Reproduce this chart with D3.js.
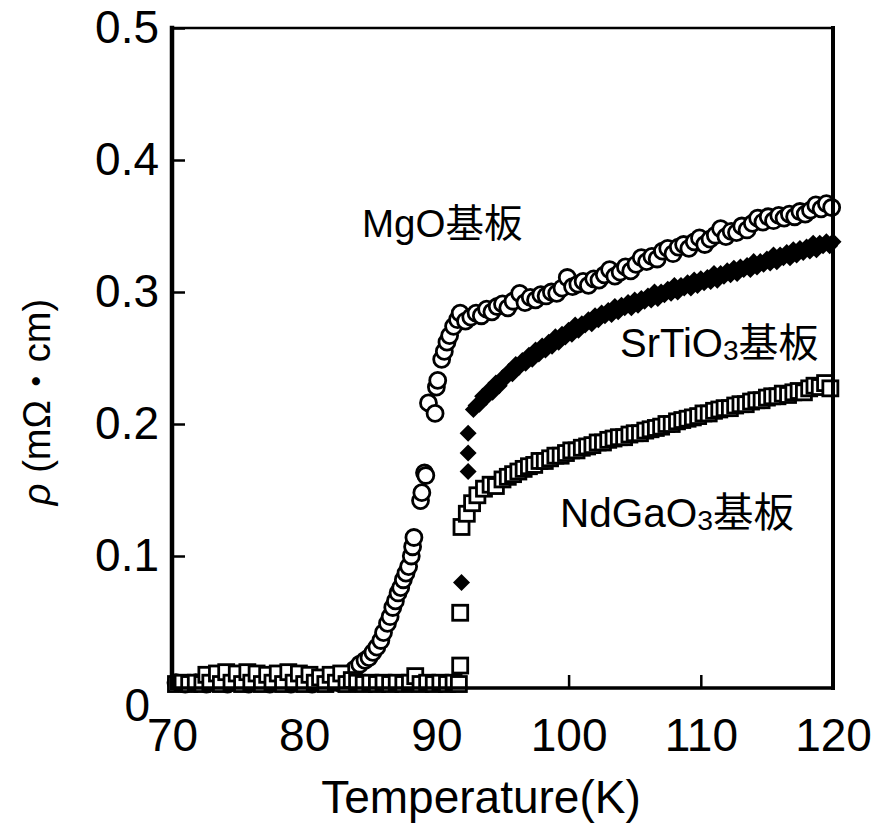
<!DOCTYPE html>
<html>
<head>
<meta charset="utf-8">
<script src="https://cdn.jsdelivr.net/npm/d3@7"></script>
<style>
  * { margin: 0; padding: 0; }
  html, body { width: 878px; height: 835px; background: #fff; overflow: hidden; }
  svg { display: block; }
  text { font-family: "Liberation Sans", Arial, "Noto Sans CJK JP", sans-serif; fill: #000; }
  .cjk { font-family: "Noto Sans CJK JP", sans-serif; }
</style>
</head>
<body>
<div id="chart"></div>
<script>
// x ticks / y ticks
const xTicks = [70, 80, 90, 100, 110, 120];
const yTicks = [0, 0.1, 0.2, 0.3, 0.4, 0.5];

// MgO substrate (open circles), [T (K), rho (mOhm cm)]
const mgo = [
  [70.3,0.004],[71.0,0.003],[71.8,0.004],[72.6,0.003],[73.4,0.004],[74.2,0.003],[75.0,0.004],
  [75.8,0.003],[76.6,0.004],[77.4,0.003],[78.2,0.004],[79.0,0.003],[79.8,0.004],[80.6,0.003],
  [81.4,0.004],[82.2,0.005],[82.8,0.006],[83.3,0.009],[83.8,0.014],[84.2,0.018],[84.6,0.021],
  [84.9,0.023],[85.2,0.027],[85.5,0.031],[85.8,0.036],[86.0,0.042],[86.3,0.049],[86.5,0.054],
  [86.7,0.061],[86.9,0.066],[87.1,0.072],[87.3,0.076],[87.5,0.082],[87.7,0.087],[87.9,0.092],
  [88.1,0.100],[88.2,0.107],[88.3,0.114],[88.8,0.142],[88.9,0.148],[89.1,0.163],[89.2,0.161],
  [89.4,0.216],[89.9,0.208],[90.0,0.228],[90.1,0.233],[90.4,0.249],[90.6,0.255],[90.8,0.262],
  [91.0,0.267],[91.3,0.274],[91.6,0.279],[91.8,0.284],[92.2,0.278],[92.6,0.281],[93.0,0.284],
  [93.4,0.282],[93.8,0.287],[94.2,0.285],[94.6,0.289],[95.0,0.291],[95.4,0.288],[95.8,0.293],
  [96.3,0.299],[96.7,0.292],[97.1,0.296],[97.5,0.294],[97.9,0.298],[98.3,0.297],[98.7,0.300],
  [99.1,0.299],[99.5,0.303],[99.9,0.311],[100.3,0.304],[100.7,0.306],[101.1,0.308],[101.5,0.305],
  [101.9,0.310],[102.3,0.309],[102.7,0.313],[103.1,0.317],[103.5,0.312],[103.9,0.315],[104.3,0.319],
  [104.7,0.316],[105.1,0.321],[105.5,0.326],[105.9,0.323],[106.3,0.327],[106.7,0.325],[107.1,0.331],
  [107.5,0.333],[107.9,0.329],[108.3,0.334],[108.7,0.336],[109.1,0.333],[109.5,0.338],[109.9,0.341],
  [110.3,0.336],[110.7,0.340],[111.1,0.343],[111.5,0.348],[111.9,0.342],[112.3,0.346],[112.7,0.345],
  [113.1,0.350],[113.5,0.347],[113.9,0.352],[114.3,0.356],[114.7,0.353],[115.1,0.357],[115.5,0.354],
  [115.9,0.358],[116.3,0.356],[116.7,0.359],[117.1,0.357],[117.5,0.361],[117.9,0.359],[118.3,0.362],
  [118.7,0.366],[119.1,0.363],[119.5,0.367],[119.9,0.364]
];

// SrTiO3 substrate (filled diamonds)
const srtio = [
  [70.5,0.003],[71.5,0.003],[72.5,0.003],[73.5,0.003],[74.5,0.003],[75.5,0.003],[76.5,0.003],
  [77.5,0.003],[78.5,0.003],[79.5,0.003],[80.5,0.003],[81.5,0.003],[82.5,0.003],[83.5,0.003],
  [84.5,0.003],[85.5,0.003],[86.5,0.003],[87.5,0.003],[88.5,0.003],[89.5,0.003],[90.5,0.003],
  [91.5,0.003],[91.9,0.080],[92.4,0.164],[92.4,0.178],[92.4,0.193],
  [92.8,0.211],[93.0,0.214],[93.25,0.215],[93.5,0.221],[93.75,0.220],[94.0,0.226],[94.25,0.224],
  [94.5,0.231],[94.75,0.229],[95.0,0.235],[95.25,0.235],[95.5,0.240],[95.75,0.238],[96.0,0.245],
  [96.25,0.243],[96.5,0.248],[96.75,0.246],[97.0,0.252],[97.25,0.249],[97.5,0.256],[97.75,0.253],
  [98.0,0.259],[98.25,0.256],[98.5,0.262],[98.75,0.259],[99.0,0.266],[99.25,0.262],[99.5,0.268],
  [99.75,0.266],[100.0,0.271],[100.25,0.268],[100.5,0.275],[100.75,0.271],[101.0,0.276],[101.25,0.275],
  [101.5,0.279],[101.75,0.276],[102.0,0.282],[102.25,0.279],[102.5,0.284],[102.75,0.282],[103.0,0.286],
  [103.25,0.283],[103.5,0.289],[103.75,0.285],[104.0,0.290],[104.25,0.288],[104.5,0.292],[104.75,0.288],
  [105.0,0.294],[105.25,0.290],[105.5,0.295],[105.75,0.293],[106.0,0.297],[106.25,0.294],[106.5,0.300],
  [106.75,0.295],[107.0,0.300],[107.25,0.298],[107.5,0.302],[107.75,0.299],[108.0,0.305],[108.25,0.300],
  [108.5,0.305],[108.75,0.303],[109.0,0.307],[109.25,0.303],[109.5,0.309],[109.75,0.305],[110.0,0.310],
  [110.25,0.307],[110.5,0.311],[110.75,0.308],[111.0,0.314],[111.25,0.309],[111.5,0.314],[111.75,0.312],
  [112.0,0.316],[112.25,0.313],[112.5,0.318],[112.75,0.314],[113.0,0.319],[113.25,0.317],[113.5,0.320],
  [113.75,0.317],[114.0,0.323],[114.25,0.319],[114.5,0.323],[114.75,0.321],[115.0,0.325],[115.25,0.322],
  [115.5,0.328],[115.75,0.323],[116.0,0.328],[116.25,0.326],[116.5,0.330],[116.75,0.326],[117.0,0.332],
  [117.25,0.328],[117.5,0.333],[117.75,0.330],[118.0,0.334],[118.25,0.331],[118.5,0.337],[118.75,0.332],
  [119.0,0.337],[119.25,0.335],[119.5,0.338],[119.75,0.335],[120.0,0.338]
];

// NdGaO3 substrate (open squares)
const ndgao = [
  [70.3,0.003],[70.8,0.004],[71.3,0.003],[71.8,0.004],[72.3,0.003],[72.6,0.010],[72.9,0.004],
  [73.4,0.011],[73.7,0.003],[74.1,0.012],[74.5,0.004],[74.9,0.011],[75.3,0.003],[75.7,0.012],
  [76.0,0.004],[76.4,0.011],[76.8,0.003],[77.2,0.010],[77.6,0.004],[78.0,0.011],[78.4,0.003],
  [78.8,0.012],[79.2,0.004],[79.6,0.011],[80.0,0.003],[80.4,0.010],[80.8,0.004],[81.2,0.008],
  [81.6,0.003],[82.0,0.010],[82.4,0.004],[82.8,0.011],[83.2,0.003],[83.6,0.006],[84.0,0.004],
  [84.5,0.003],[85.0,0.004],[85.5,0.003],[86.0,0.004],[86.5,0.003],[87.0,0.004],[87.5,0.003],
  [88.0,0.004],[88.4,0.009],[88.8,0.003],[89.3,0.004],[89.8,0.003],[90.3,0.004],[90.8,0.003],
  [91.3,0.004],[91.7,0.003],[91.8,0.017],[91.8,0.057],[91.9,0.122],[92.3,0.132],[92.7,0.140],
  [93.1,0.146],[93.6,0.151],[94.1,0.154],[94.5,0.153],[95.0,0.158],[95.4,0.160],[95.8,0.162],
  [96.2,0.164],[96.6,0.166],[97.0,0.168],[97.4,0.169],[97.8,0.172],[98.2,0.172],[98.6,0.174],
  [99.0,0.176],[99.4,0.176],[99.8,0.178],[100.2,0.180],[100.6,0.180],[101.0,0.182],[101.4,0.183],
  [101.8,0.184],[102.2,0.186],[102.6,0.186],[103.0,0.188],[103.4,0.189],[103.8,0.190],[104.2,0.190],
  [104.6,0.192],[105.0,0.193],[105.4,0.193],[105.8,0.195],[106.2,0.196],[106.6,0.197],[107.0,0.198],
  [107.4,0.200],[107.8,0.200],[108.2,0.202],[108.6,0.203],[109.0,0.204],[109.4,0.205],[109.8,0.206],
  [110.2,0.208],[110.6,0.208],[111.0,0.210],[111.4,0.211],[111.8,0.212],[112.2,0.212],[112.6,0.214],
  [113.0,0.215],[113.4,0.215],[113.8,0.217],[114.2,0.218],[114.6,0.218],[115.0,0.220],[115.4,0.221],
  [115.8,0.221],[116.2,0.223],[116.6,0.222],[117.0,0.224],[117.4,0.225],[117.8,0.224],[118.2,0.227],
  [118.6,0.229],[119.0,0.228],[119.4,0.231],[119.8,0.227]
];

const W = 878, H = 835;
const plotL = 172, plotR = 833, plotT = 28, plotB = 688;

const svg = d3.select('#chart').append('svg').attr('width', W).attr('height', H);

const x = d3.scaleLinear().domain([70, 120]).range([plotL, plotR]);
const y = d3.scaleLinear().domain([0, 0.5]).range([plotB, plotT]);

// axes with inward ticks
const xAxis = svg.append('g')
  .attr('transform', `translate(0,${plotB})`)
  .call(d3.axisBottom(x).tickValues(xTicks).tickSize(-13).tickPadding(30).tickFormat(d3.format('d')));
const yAxis = svg.append('g')
  .attr('transform', `translate(${plotL},0)`)
  .call(d3.axisLeft(y).tickValues(yTicks).tickSize(-13).tickPadding(13)
    .tickFormat(d => d === 0 ? '0' : d3.format('.1f')(d)));

[xAxis, yAxis].forEach(g => {
  g.select('.domain').remove();
  g.selectAll('.tick line').attr('stroke', '#000').attr('stroke-width', 2.5);
  g.selectAll('.tick text')
    .style('font-family', '"Liberation Sans", Arial, sans-serif')
    .style('font-size', '46px')
    .attr('fill', '#000');
});
// zero label sits a little lower in the original
yAxis.selectAll('.tick text').filter(d => d === 0).attr('dy', '0.7em').attr('x', -22);

// data marks
svg.append('g').selectAll('circle').data(mgo).join('circle')
  .attr('cx', d => x(d[0])).attr('cy', d => y(d[1])).attr('r', 8)
  .attr('fill', '#fff').attr('stroke', '#000').attr('stroke-width', 2.8);

const diamond = d3.symbol().type(d3.symbolDiamond2).size(185);
svg.append('g').selectAll('path').data(srtio).join('path')
  .attr('d', diamond)
  .attr('transform', d => `translate(${x(d[0])},${y(d[1])})`)
  .attr('fill', '#000');

const sq = 15;
svg.append('g').selectAll('rect').data(ndgao).join('rect')
  .attr('x', d => x(d[0]) - sq / 2).attr('y', d => y(d[1]) - sq / 2)
  .attr('width', sq).attr('height', sq)
  .attr('fill', '#fff').attr('stroke', '#000').attr('stroke-width', 2.8);

// frame
const frame = svg.append('g').attr('stroke', '#000').attr('stroke-linecap', 'square');
frame.append('line').attr('x1', plotL).attr('x2', plotL).attr('y1', plotT).attr('y2', plotB).attr('stroke-width', 4.5);
frame.append('line').attr('x1', plotR).attr('x2', plotR).attr('y1', plotT).attr('y2', plotB).attr('stroke-width', 4);
frame.append('line').attr('x1', plotL).attr('x2', plotR).attr('y1', plotT).attr('y2', plotT).attr('stroke-width', 2.5);
frame.append('line').attr('x1', plotL).attr('x2', plotR).attr('y1', plotB).attr('y2', plotB).attr('stroke-width', 3.5);

// axis titles
svg.append('text')
  .attr('x', 481).attr('y', 813)
  .attr('text-anchor', 'middle')
  .style('font-size', '46px')
  .text('Temperature(K)');

const yl = svg.append('text')
  .attr('transform', 'translate(50,402) rotate(-90)')
  .attr('text-anchor', 'middle')
  .style('font-size', '38px');
yl.append('tspan').style('font-style', 'italic').text('ρ');
yl.append('tspan').text(' (mΩ');
yl.append('tspan').attr('class', 'cjk').text('・');
yl.append('tspan').text('cm)');

// series labels
function label(px, py, size, main, sub) {
  const t = svg.append('text').attr('x', px).attr('y', py).style('font-size', size + 'px');
  t.append('tspan').text(main);
  if (sub) t.append('tspan').style('font-size', (size * 0.7) + 'px').attr('dy', 3).text(sub);
  t.append('tspan').attr('class', 'cjk').attr('dy', sub ? -3 : 0).text('基板');
}
label(362, 237, 38.5, 'MgO');
label(620, 357, 40, 'SrTiO', '3');
label(560, 527, 40.5, 'NdGaO', '3');
</script>
</body>
</html>
